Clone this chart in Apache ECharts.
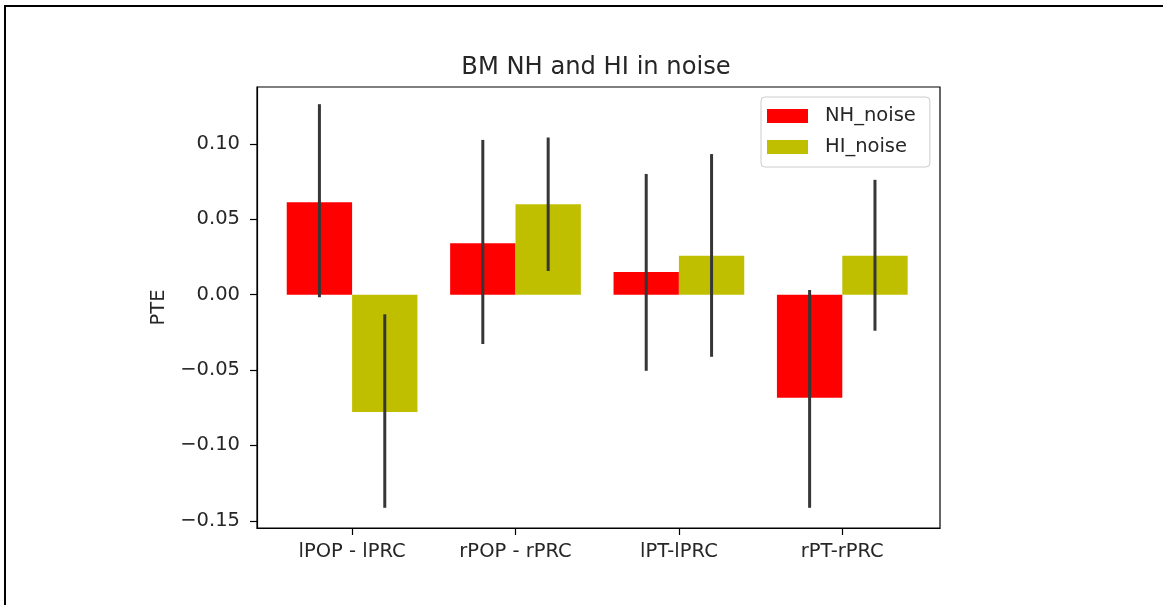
<!DOCTYPE html>
<html>
<head>
<meta charset="utf-8">
<script src="https://cdn.jsdelivr.net/npm/echarts@6/dist/echarts.min.js"></script>
<style>
html,body{margin:0;padding:0;background:#fff;}
#c{width:1163px;height:605px;}
</style>
</head>
<body>
<div id="c"></div>
<script>
const categories = ['lPOP - lPRC', 'rPOP - rPRC', 'lPT-lPRC', 'rPT-rPRC'];
const seriesNames = ['NH_noise', 'HI_noise'];
const nhValues = [0.0613, 0.0341, 0.0151, -0.0684];
const nhLow = [-0.0017, -0.0327, -0.0505, -0.1414];
const nhHigh = [0.1264, 0.1027, 0.0801, 0.0031];
const hiValues = [-0.0779, 0.0600, 0.0259, 0.0259];
const hiLow = [-0.1414, 0.0157, -0.0412, -0.0239];
const hiHigh = [-0.0130, 0.1043, 0.0933, 0.0762];
const yTicks = [-0.15, -0.10, -0.05, 0.00, 0.05, 0.10];
const xTicks = [0, 1, 2, 3];

const FONT = 'DejaVu Sans';
const BAR_W = 0.4;

function barSeries(name, values, offset, color) {
  return {
    name: name,
    type: 'custom',
    itemStyle: { color: color },
    encode: { x: 0, y: 1 },
    data: values.map((v, i) => [i, v]),
    z: 2,
    renderItem: function (params, api) {
      const i = api.value(0), v = api.value(1);
      const a = api.coord([i + offset - BAR_W / 2, v]);
      const b = api.coord([i + offset + BAR_W / 2, 0]);
      return {
        type: 'rect',
        shape: { x: a[0], y: Math.min(a[1], b[1]), width: b[0] - a[0], height: Math.abs(b[1] - a[1]) },
        style: { fill: color }
      };
    }
  };
}

function errSeries(low, high, offset) {
  return {
    type: 'custom',
    encode: { x: 0, y: [1, 2] },
    data: low.map((l, i) => [i, l, high[i]]),
    z: 5,
    silent: true,
    renderItem: function (params, api) {
      const i = api.value(0);
      const a = api.coord([i + offset, api.value(1)]);
      const b = api.coord([i + offset, api.value(2)]);
      return {
        type: 'line',
        shape: { x1: a[0], y1: a[1], x2: b[0], y2: b[1] },
        style: { stroke: '#363636', lineWidth: 3 }
      };
    }
  };
}

const fmtY = v => {
  const s = Math.abs(v).toFixed(2);
  return (v < -1e-9 ? '\u2212' : '') + s;
};

const chart = echarts.init(document.getElementById('c'), null, { renderer: 'canvas' });
chart.setOption({
  animation: false,
  backgroundColor: '#ffffff',
  title: {
    text: 'BM NH and HI in noise',
    left: 591, top: 51, textAlign: 'center',
    textStyle: { fontFamily: FONT, fontSize: 24.2, fontWeight: 'normal', color: '#262626' }
  },
  legend: {
    data: seriesNames,
    left: 761, top: 97,
    orient: 'vertical',
    icon: 'rect',
    itemWidth: 41, itemHeight: 14, itemGap: 9,
    padding: [8, 14, 9, 6],
    backgroundColor: 'rgba(255,255,255,0.8)',
    borderColor: '#cccccc', borderWidth: 1, borderRadius: 4,
    textStyle: { fontFamily: FONT, fontSize: 19.5, color: '#262626', padding: [0, 0, 0, 12], lineHeight: 22 }
  },
  grid: {
    left: 257, right: 223, top: 87, bottom: 77,
    show: true, borderColor: '#000', borderWidth: 1.2, backgroundColor: 'transparent'
  },
  xAxis: {
    type: 'value', min: -0.582, max: 3.598,
    axisLine: { show: true, onZero: false, lineStyle: { color: '#000', width: 1.2 } },
    axisTick: { show: true, customValues: xTicks, length: 7, lineStyle: { color: '#000', width: 1.2 } },
    axisLabel: {
      customValues: xTicks, margin: 14,
      formatter: v => categories[Math.round(v)],
      fontFamily: FONT, fontSize: 19.5, color: '#262626'
    },
    splitLine: { show: false }
  },
  yAxis: {
    type: 'value', min: -0.1548, max: 0.1378,
    name: 'PTE', nameLocation: 'middle', nameRotate: 90, nameGap: 84,
    nameTextStyle: { fontFamily: FONT, fontSize: 19.5, color: '#262626' },
    axisLine: { show: true, onZero: false, lineStyle: { color: '#000', width: 1.2 } },
    axisTick: { show: true, customValues: yTicks, length: 7, lineStyle: { color: '#000', width: 1.2 } },
    axisLabel: {
      customValues: yTicks, margin: 17, formatter: fmtY,
      fontFamily: FONT, fontSize: 19.5, color: '#262626'
    },
    splitLine: { show: false }
  },
  graphic: [
    { type: 'line', shape: { x1: 4, y1: 6, x2: 1163, y2: 6 }, style: { stroke: '#000', lineWidth: 2 } },
    { type: 'line', shape: { x1: 5, y1: 5, x2: 5, y2: 605 }, style: { stroke: '#000', lineWidth: 2 } }
  ],
  series: [
    barSeries(seriesNames[0], nhValues, -0.2, '#ff0000'),
    barSeries(seriesNames[1], hiValues, 0.2, '#bfbf00'),
    errSeries(nhLow, nhHigh, -0.2),
    errSeries(hiLow, hiHigh, 0.2)
  ]
});
</script>
</body>
</html>
